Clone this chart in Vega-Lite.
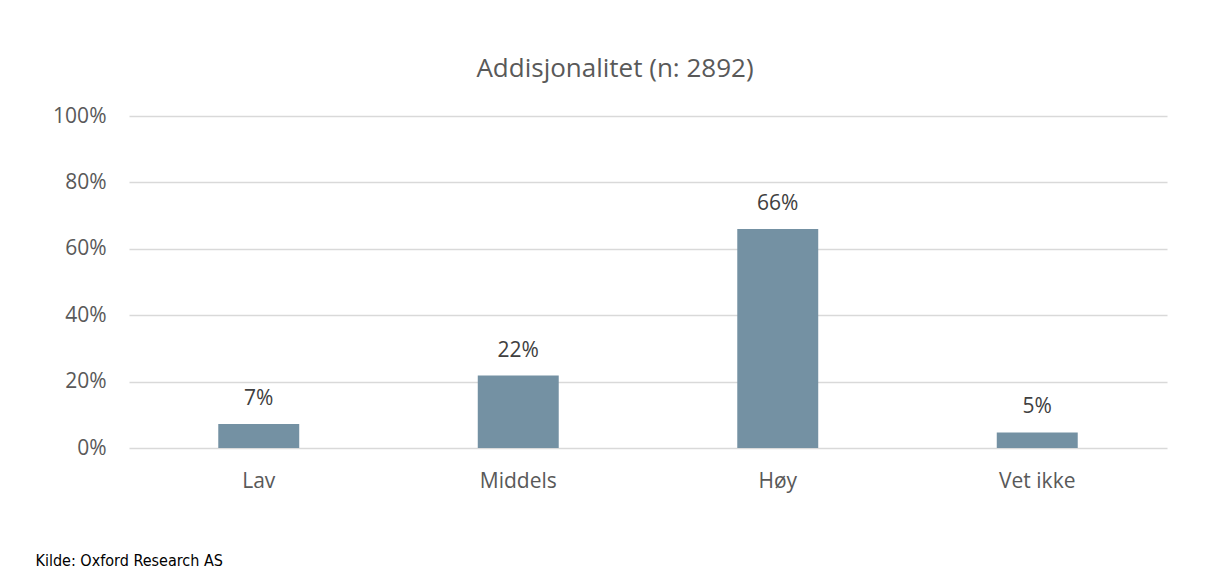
{
  "$schema": "https://vega.github.io/schema/vega-lite/v6.json",
  "autosize": "none",
  "width": 1038,
  "height": 332,
  "padding": {"left": 129, "top": 116, "right": 41, "bottom": 120},
  "background": "white",
  "config": {
    "view": {"stroke": null},
    "font": "Open Sans"
  },
  "title": {
    "text": "Addisjonalitet (n: 2892)",
    "anchor": "middle",
    "frame": "group",
    "dx": -33,
    "offset": 2,
    "baseline": "alphabetic",
    "font": "Open Sans",
    "fontSize": 26,
    "fontWeight": "normal",
    "color": "#595959"
  },
  "data": {
    "values": [
      {"kategori": "Lav", "andel": 0.072},
      {"kategori": "Middels", "andel": 0.218},
      {"kategori": "Høy", "andel": 0.66},
      {"kategori": "Vet ikke", "andel": 0.047}
    ]
  },
  "encoding": {
    "x": {
      "field": "kategori",
      "type": "nominal",
      "sort": null,
      "scale": {"paddingInner": 0.688, "paddingOuter": 0.344},
      "axis": {
        "title": "Kilde: Oxford Research AS",
        "titleFont": "DejaVu Sans Condensed",
        "titleFontSize": 16,
        "titleFontWeight": "normal",
        "titleColor": "#000000",
        "titleAnchor": "start",
        "titleAlign": "left",
        "titleBaseline": "alphabetic",
        "titleX": -94,
        "titleY": 117,
        "labelAngle": 0,
        "labelFont": "Open Sans",
        "labelFontSize": 21,
        "labelColor": "#595959",
        "labelBaseline": "alphabetic",
        "labelPadding": 39,
        "ticks": false,
        "domain": false
      }
    },
    "y": {
      "field": "andel",
      "type": "quantitative",
      "scale": {"domain": [0, 1], "nice": false},
      "axis": {
        "title": null,
        "values": [0, 0.2, 0.4, 0.6, 0.8, 1],
        "format": ".0%",
        "labelFont": "Open Sans",
        "labelFontSize": 21,
        "labelColor": "#595959",
        "labelPadding": 23,
        "ticks": false,
        "domain": false,
        "grid": true,
        "gridColor": "#d9d9d9",
        "gridWidth": 1.5
      }
    }
  },
  "layer": [
    {"mark": {"type": "bar", "color": "#7491a3"}},
    {
      "mark": {
        "type": "text",
        "baseline": "alphabetic",
        "dy": -19,
        "font": "Open Sans",
        "fontSize": 21,
        "color": "#404040"
      },
      "encoding": {"text": {"field": "andel", "type": "quantitative", "format": ".0%"}}
    }
  ]
}
